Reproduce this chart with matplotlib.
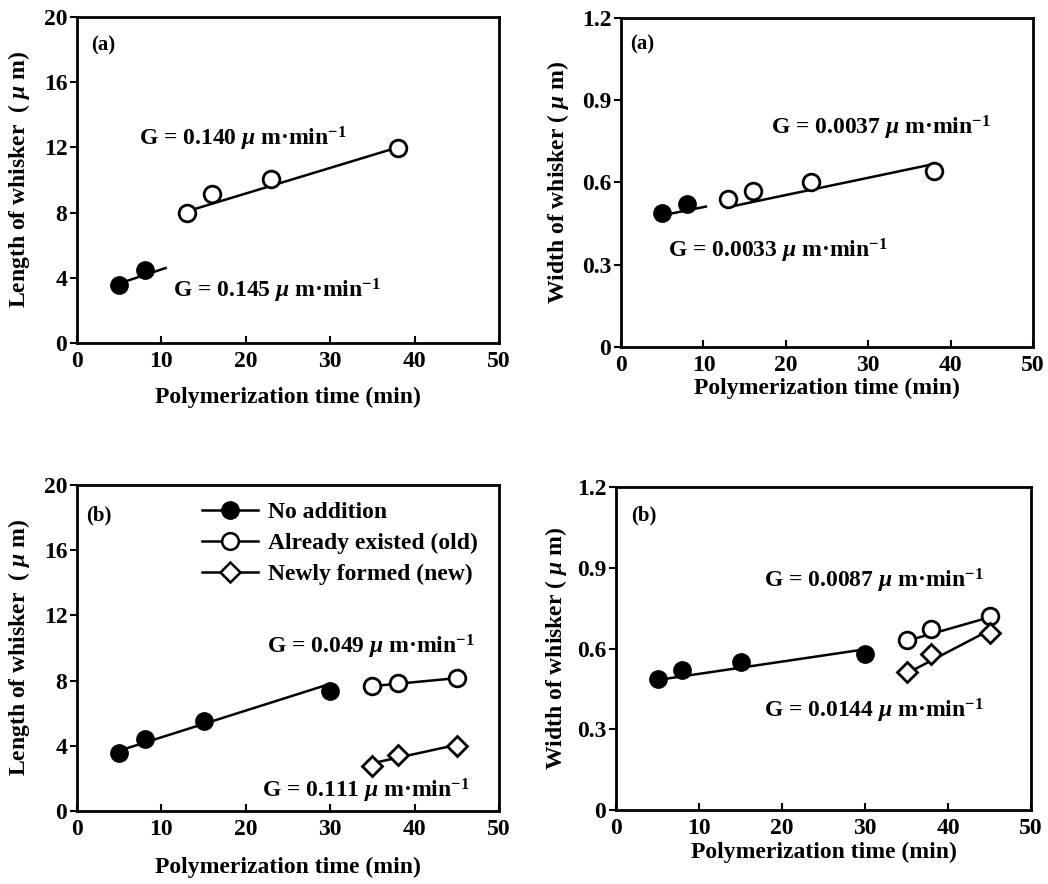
import matplotlib
matplotlib.use('Agg')
import matplotlib.pyplot as plt
from matplotlib.lines import Line2D

plt.rcParams['font.family'] = ['Liberation Serif', 'DejaVu Serif']
plt.rcParams['font.weight'] = 'bold'
plt.rcParams['mathtext.fontset'] = 'custom'
plt.rcParams['mathtext.rm'] = 'Liberation Serif:bold'
plt.rcParams['mathtext.it'] = 'Liberation Serif:italic:bold'
plt.rcParams['mathtext.bf'] = 'Liberation Serif:bold'

# (a) data
time_a_no = [5, 8]
time_a_old = [13, 16, 23, 38]
len_a_no = [3.55, 4.45]
len_a_old = [7.98, 9.15, 10.07, 11.95]
wid_a_no = [0.49, 0.52]
wid_a_old = [0.54, 0.57, 0.60, 0.64]

# (b) data
time_b_no = [5, 8, 15, 30]
time_b_add = [35, 38, 45]
len_b_no = [3.55, 4.42, 5.55, 7.35]
len_b_old = [7.65, 7.85, 8.16]
len_b_new = [2.78, 3.45, 4.0]
wid_b_no = [0.487, 0.52, 0.551, 0.581]
wid_b_old = [0.63, 0.672, 0.72]
wid_b_new = [0.512, 0.581, 0.659]

# fitted lines, endpoints
fit_a_len_no = ([5, 10.5], [3.65, 4.6])
fit_a_len_old = ([13.5, 38], [8.15, 12.0])
fit_a_wid_no = ([5, 10.3], [0.48, 0.512])
fit_a_wid_old = ([13, 37.6], [0.51, 0.665])
fit_b_len_no = ([5, 30], [3.7, 7.8])
fit_b_len_old = ([35, 45], [7.66, 8.15])
fit_b_len_new = ([35, 45], [2.93, 4.06])
fit_b_wid_no = ([5, 30], [0.483, 0.597])
fit_b_wid_old = ([35, 45], [0.628, 0.716])
fit_b_wid_new = ([35, 45], [0.507, 0.668])

xlab = 'Polymerization time (min)'
ylab_len = r'Length of whisker  ( $\mu$ m)'
ylab_wid = r'Width of whisker ( $\mu$ m)'

FS = 17


def g_text(v):
    return 'G = ' + v + r' $\mu$ m·min$^{-1}$'


fig = plt.figure(figsize=(10.48, 8.84), dpi=100)
ax1 = fig.add_axes([0.0735, 0.612, 0.4027, 0.3688])
ax2 = fig.add_axes([0.5926, 0.6075, 0.3931, 0.3722])
ax3 = fig.add_axes([0.0735, 0.0826, 0.4027, 0.3688])
ax4 = fig.add_axes([0.5878, 0.0837, 0.396, 0.3654])

filled = dict(marker='o', ms=12.5, mfc='black', mec='black', ls='none', zorder=3)
opened = dict(marker='o', ms=12, mfc='white', mec='black', mew=2, ls='none', zorder=3)
diam = dict(marker='D', ms=10.5, mfc='white', mec='black', mew=2, ls='none', zorder=3)
fitkw = dict(color='black', lw=1.8, zorder=2)


def style(ax, ymax, yticks, xlab_y, ylab_x):
    ax.set_xlim(0, 50)
    ax.set_ylim(0, ymax)
    ax.set_xticks([0, 10, 20, 30, 40, 50])
    ax.set_yticks(yticks)
    for s in ax.spines.values():
        s.set_linewidth(2)
    ax.tick_params(axis='x', direction='in', length=5, width=1.5, pad=6, labelsize=17)
    ax.tick_params(axis='y', direction='out', length=5, width=1.5, pad=2, labelsize=17)
    for lab in ax.get_xticklabels() + ax.get_yticklabels():
        lab.set_fontweight('bold')
    ax.set_xlabel(xlab, fontsize=FS, fontweight='bold')
    ax.xaxis.set_label_coords(0.5, xlab_y)
    ax.yaxis.set_label_coords(ylab_x, 0.5)


# panel 1
ax1.plot(*fit_a_len_no, **fitkw)
ax1.plot(*fit_a_len_old, **fitkw)
ax1.plot(time_a_no, len_a_no, **filled)
ax1.plot(time_a_old, len_a_old, **opened)
ax1.text(1.7, 17.96, '(a)', fontsize=15, fontweight='bold')
ax1.text(7.4, 12.1, g_text('0.140'), fontsize=FS, fontweight='bold')
ax1.text(11.4, 2.8, g_text('0.145'), fontsize=FS, fontweight='bold')
ax1.set_ylabel(ylab_len, fontsize=FS, fontweight='bold')
style(ax1, 20, [0, 4, 8, 12, 16, 20], -0.135, -0.107)

# panel 2
ax2.plot(*fit_a_wid_no, **fitkw)
ax2.plot(*fit_a_wid_old, **fitkw)
ax2.plot(time_a_no, wid_a_no, **filled)
ax2.plot(time_a_old, wid_a_old, **opened)
ax2.text(1.13, 1.084, '(a)', fontsize=15, fontweight='bold')
ax2.text(18.2, 0.774, g_text('0.0037'), fontsize=FS, fontweight='bold')
ax2.text(5.65, 0.327, g_text('0.0033'), fontsize=FS, fontweight='bold')
ax2.set_ylabel(ylab_wid, fontsize=FS, fontweight='bold')
style(ax2, 1.2, [0, 0.3, 0.6, 0.9, 1.2], -0.093, -0.122)
ax2.set_yticklabels(['0', '0.3', '0.6', '0.9', '1.2'])

# panel 3
ax3.plot(*fit_b_len_no, **fitkw)
ax3.plot(*fit_b_len_old, **fitkw)
ax3.plot(*fit_b_len_new, **fitkw)
ax3.plot(time_b_no, len_b_no, **filled)
ax3.plot(time_b_add, len_b_old, **opened)
ax3.plot(time_b_add, len_b_new, **diam)
ax3.text(1.03, 17.85, '(b)', fontsize=15, fontweight='bold')
ax3.text(22.45, 9.67, g_text('0.049'), fontsize=FS, fontweight='bold')
ax3.text(21.9, 0.82, g_text('0.111'), fontsize=FS, fontweight='bold')
ax3.set_ylabel(ylab_len, fontsize=FS, fontweight='bold')
style(ax3, 20, [0, 4, 8, 12, 16, 20], -0.14, -0.107)

handles = [
    Line2D([], [], color='black', lw=1.8, marker='o', ms=12.5, mfc='black', mec='black'),
    Line2D([], [], color='black', lw=1.8, marker='o', ms=12, mfc='white', mec='black', mew=1.8),
    Line2D([], [], color='black', lw=1.8, marker='D', ms=10.5, mfc='white', mec='black', mew=1.8),
]
labels = ['No addition', 'Already existed (old)', 'Newly formed (new)']
ax3.legend(handles, labels, loc='upper left', bbox_to_anchor=(0.245, 1.015), frameon=False,
           handlelength=2.4, handletextpad=0.4, labelspacing=0.4,
           prop={'size': FS, 'weight': 'bold'})

# panel 4
ax4.plot(*fit_b_wid_no, **fitkw)
ax4.plot(*fit_b_wid_old, **fitkw)
ax4.plot(*fit_b_wid_new, **fitkw)
ax4.plot(time_b_no, wid_b_no, **filled)
ax4.plot(time_b_add, wid_b_old, **opened)
ax4.plot(time_b_add, wid_b_new, **diam)
ax4.text(1.8, 1.076, '(b)', fontsize=15, fontweight='bold')
ax4.text(17.85, 0.825, g_text('0.0087'), fontsize=FS, fontweight='bold')
ax4.text(17.85, 0.344, g_text('0.0144'), fontsize=FS, fontweight='bold')
ax4.set_ylabel(ylab_wid, fontsize=FS, fontweight='bold')
style(ax4, 1.2, [0, 0.3, 0.6, 0.9, 1.2], -0.1, -0.114)
ax4.set_yticklabels(['0', '0.3', '0.6', '0.9', '1.2'])

fig.savefig('out.png', dpi=100)
